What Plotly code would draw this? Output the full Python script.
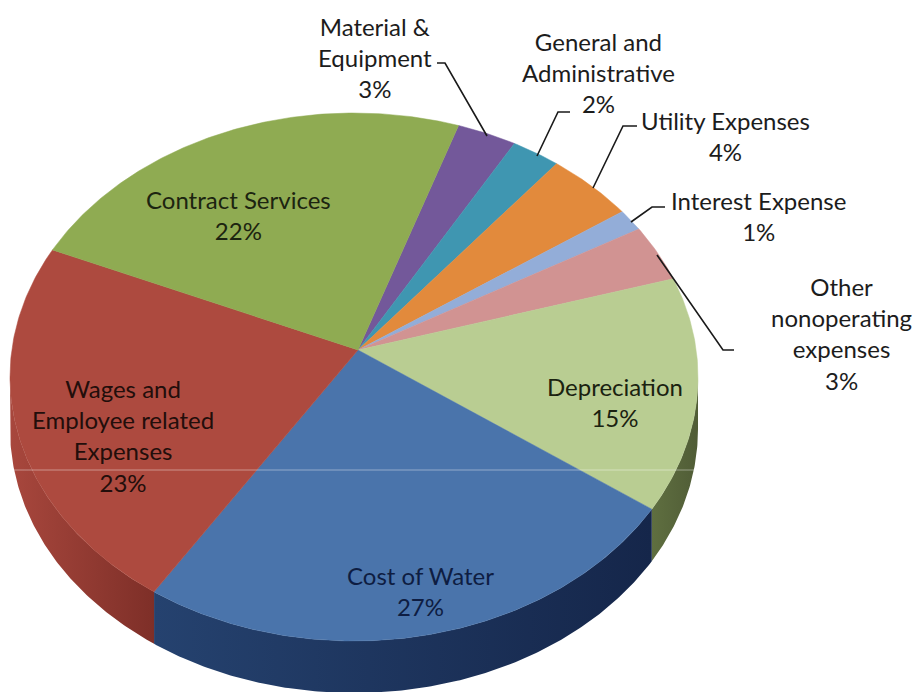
import numpy as np
import plotly.graph_objects as go

# ---- data, clockwise from the first slice ----
categories = ["Material &<br>Equipment", "General and<br>Administrative", "Utility Expenses",
              "Interest Expense", "Other<br>nonoperating<br>expenses", "Depreciation",
              "Cost of Water", "Wages and<br>Employee related<br>Expenses", "Contract Services"]
values = [2.8, 2.3, 4.2, 1.3, 3.4, 14.4, 26.5, 23.1, 21.9]
percent_labels = ["3%", "2%", "4%", "1%", "3%", "15%", "27%", "23%", "22%"]

# ---- styles ----
top_colors = ["#73589a", "#3f96b1", "#e28a3c", "#93add8", "#d19392",
              "#b9cd92", "#4a74ab", "#ad4a3f", "#8fab52"]
wall_left = ["#4a3866", "#2a6275", "#94592a", "#60718d", "#885f5f",
             "#5f6f40", "#25426f", "#a8473d", "#5d6f36"]
wall_right = ["#4a3866", "#2a6275", "#94592a", "#60718d", "#885f5f",
              "#505c36", "#15264a", "#7e2f28", "#5d6f36"]
label_colors = ["#1c1c1c", "#1c1c1c", "#1c1c1c", "#1c1c1c", "#1c1c1c",
                "#1a2210", "#0e1d42", "#220e0b", "#1c2410"]

# ---- geometry of the tilted pie, in picture pixels ----
CX, CY, RX, RY = 354, 377, 344, 264   # rim ellipse
APEX_X, APEX_Y = 358, 350             # where the slices meet
DEPTH = 52
START = 17.7

label_x = [375, 598, 725, 758, 841, 615, 420, 123, 238]
label_y = [57, 72, 136, 216, 333, 402, 591, 435, 215]
leaders = [
    ([437, 445, 487], [63, 63, 136]),
    ([570, 558, 537], [112, 112, 156]),
    ([637, 623, 593], [126, 126, 188]),
    ([665, 652, 631], [207, 207, 222]),
    ([657, 723, 734], [255, 350, 350]),
]


def rim(t_deg):
    t = np.radians(t_deg)
    return CX + RX * np.sin(t), CY - RY * np.cos(t)


fig = go.Figure()
degrees = np.array(values) / sum(values) * 360
edges = START + np.concatenate([[0], np.cumsum(degrees)])

# side wall first, only the part of the rim that faces the viewer
for a, b, c_right, c_left in zip(edges[:-1], edges[1:], wall_right, wall_left):
    lo, hi = max(a, 90), min(b, 270)
    if hi <= lo:
        continue
    ts = np.linspace(lo, hi, int((hi - lo) * 2) + 2)
    x, y = rim(ts)
    fig.add_trace(go.Scatter(
        x=np.concatenate([x, x[::-1]]), y=np.concatenate([y, (y + DEPTH)[::-1]]),
        mode="lines", fill="toself",
        fillgradient=dict(type="horizontal", colorscale=[[0, c_left], [1, c_right]]),
        line=dict(width=0), hoverinfo="skip", showlegend=False))

# top face of every slice
for a, b, col in zip(edges[:-1], edges[1:], top_colors):
    ts = np.linspace(a, b, int((b - a) * 2) + 2)
    x, y = rim(ts)
    fig.add_trace(go.Scatter(
        x=np.concatenate([[APEX_X], x, [APEX_X]]), y=np.concatenate([[APEX_Y], y, [APEX_Y]]),
        mode="lines", fill="toself", fillcolor=col, line=dict(width=0.5, color=col),
        hoverinfo="skip", showlegend=False))

# scan line across the picture
fig.add_shape(type="line", x0=12, x1=698, y0=470, y1=470, layer="above",
              line=dict(color="rgba(255,255,255,0.4)", width=1))

for lx, ly in leaders:
    fig.add_trace(go.Scatter(x=lx, y=ly, mode="lines", line=dict(color="#1a1a1a", width=1.6),
                             hoverinfo="skip", showlegend=False))

for name, pct, x, y, col in zip(categories, percent_labels, label_x, label_y, label_colors):
    fig.add_annotation(x=x, y=y, text=f"{name}<br>{pct}", showarrow=False,
                       xanchor="center", yanchor="middle", align="center",
                       font=dict(family="Lato", size=24, color=col))

fig.update_xaxes(range=[0, 918], visible=False, fixedrange=True)
fig.update_yaxes(range=[692, 0], visible=False, fixedrange=True)
fig.update_layout(width=918, height=692, margin=dict(l=0, r=0, t=0, b=0),
                  paper_bgcolor="white", plot_bgcolor="white", showlegend=False)
fig.write_html("out.html", post_script="document.body.style.margin='0';",
               config={"displayModeBar": False})
